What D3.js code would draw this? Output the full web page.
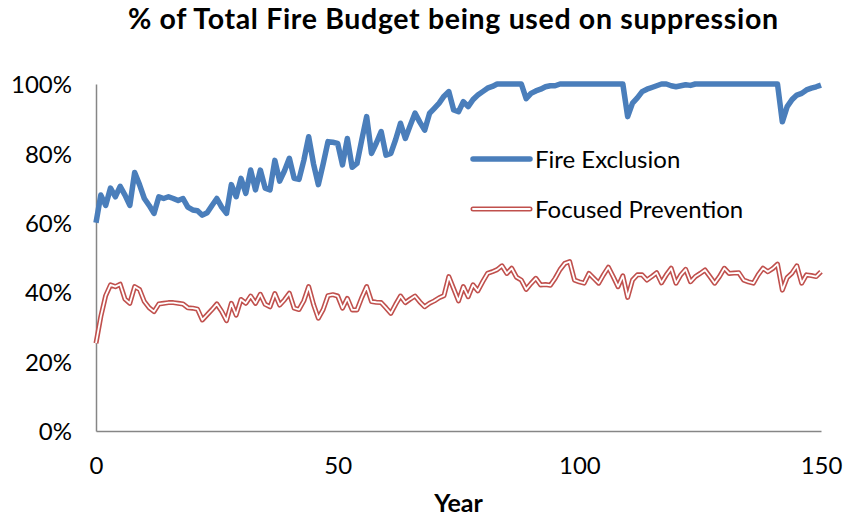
<!DOCTYPE html>
<html>
<head>
<meta charset="utf-8">
<script src="https://cdn.jsdelivr.net/npm/d3@7/dist/d3.min.js"></script>
<style>
  html, body { margin: 0; padding: 0; background: #fff; }
  svg { display: block; }
  text { font-family: Lato, "Open Sans", sans-serif; fill: #000; }
</style>
</head>
<body>
<svg id="chart" width="845" height="520"></svg>
<script>
// Share of the total fire budget spent on suppression, by simulated year.
const years = d3.range(0, 151);

const fireExclusion = [
  60, 68, 65, 70, 67.5, 70.5, 68, 65, 74.5, 71,
  67, 65, 62.7, 67.5, 67, 67.5, 67, 66.4, 67, 64.5,
  63.7, 63.5, 62.2, 62.9, 65, 67, 64.5, 62.7, 71, 67.5,
  72.8, 68.5, 75.2, 69.5, 75.2, 70, 69.5, 78, 72, 75,
  78.6, 72.8, 72.5, 78, 84.8, 77, 71, 77, 83.4, 83.2,
  82.9, 76.7, 84.3, 76, 77.1, 84, 90.6, 80, 83, 86.3,
  79.5, 80, 84, 88.7, 84.3, 88, 91.6, 89, 86.7, 91.5,
  93, 94.5, 96.5, 97.8, 92.5, 92, 94.9, 93.5, 95.5, 96.8,
  97.8, 98.8, 99.3, 100, 100, 100, 100, 100, 100, 95.8,
  97.3, 98, 98.5, 99.2, 99.5, 99.5, 100, 100, 100, 100,
  100, 100, 100, 100, 100, 100, 100, 100, 100, 100,
  90.6, 94.5, 96, 97.8, 98.5, 99, 99.5, 100, 100, 99.5,
  99.2, 99.5, 99.8, 99.6, 100, 100, 100, 100, 100, 100,
  100, 100, 100, 100, 100, 100, 100, 100, 100, 100,
  100, 100, 89.1, 93.5, 95.5, 96.8, 97.3, 98.3, 98.8, 99.2,
  99.7
];

const focusedPrevention = [
  25.3, 33, 39, 42.1, 41.6, 42.3, 38, 36.8, 41.6, 40.8,
  37.3, 35.5, 34.4, 36.6, 36.8, 37, 37, 36.8, 36.6, 35.5,
  35.4, 35.1, 32, 33.5, 35, 36.6, 34.5, 31.8, 36.8, 33.4,
  37.9, 36.8, 38.9, 36.8, 39.4, 36.5, 35.8, 39.6, 36.3, 37.8,
  39.7, 35.4, 35, 37.5, 41.6, 36.5, 32.5, 35, 39, 39.3,
  38.9, 35.4, 38.2, 34.9, 34.9, 38.5, 41.6, 37.3, 37.1, 37,
  35.5, 33.9, 36.5, 38.9, 37, 38, 38.9, 37.2, 35.8, 36.8,
  37.5, 38.4, 39, 44.5, 41, 37.5, 41.6, 38.7, 42.1, 40.4,
  43, 45.4, 45.9, 46.5, 47.6, 45.4, 46.9, 44.3, 43.5, 40.8,
  42.5, 44, 42.1, 42.2, 42, 44, 46.5, 48.3, 48.8, 43.5,
  43, 42.6, 45.4, 44, 42.6, 45, 47.2, 44.5, 41.6, 44.7,
  38.5, 43.5, 45, 45, 43.5, 44.5, 45.6, 42.7, 45, 46.9,
  42.6, 45, 46.6, 43, 44.5, 45.4, 46.4, 44.5, 42.6, 44.5,
  46.9, 45.4, 45.5, 45.6, 43.5, 43, 42.6, 45, 46.9, 45.9,
  46.8, 48.1, 40.6, 44.2, 45.5, 47.6, 42.6, 45, 44.8, 44.5,
  45.9
];

const xTicks = [0, 50, 100, 150];
const yTicks = [0, 20, 40, 60, 80, 100];
const seriesNames = ["Fire Exclusion", "Focused Prevention"];
const titleText = "% of Total Fire Budget being used on suppression";
const xTitle = "Year";

const svg = d3.select("#chart");
const margin = { left: 96, right: 24, top: 84, bottom: 89 };
const W = 845, H = 520;

const x = d3.scaleLinear().domain([0, 150]).range([margin.left, W - margin.right]);
const y = d3.scaleLinear().domain([0, 100]).range([H - margin.bottom, margin.top]);

const axisColor = "#868686";
const blue = "#4a7ebb", red = "#c0504d";

// Title
svg.append("text")
  .attr("x", 453).attr("y", 29)
  .attr("text-anchor", "middle")
  .attr("textLength", 650).attr("lengthAdjust", "spacing")
  .style("font-size", "28.5px").style("font-weight", "700")
  .text(titleText);

// Y axis
const yAxis = svg.append("g")
  .attr("transform", `translate(${margin.left},0)`)
  .call(d3.axisLeft(y).tickValues(yTicks).tickSize(0).tickPadding(24)
    .tickFormat(d => d + "%"));
yAxis.select(".domain").attr("stroke", axisColor).attr("stroke-width", 1.5);
yAxis.selectAll("text").style("font-size", "24px").style("font-family", "Lato, sans-serif")
  .attr("dy", "0.36em");

// X axis
const xAxis = svg.append("g")
  .attr("transform", `translate(0,${y(0)})`)
  .call(d3.axisBottom(x).tickValues(xTicks).tickSize(0).tickPadding(26)
    .tickFormat(d3.format("d")));
xAxis.select(".domain").attr("stroke", axisColor).attr("stroke-width", 1.5);
xAxis.selectAll("text").style("font-size", "24px").style("font-family", "Lato, sans-serif");

// X axis title
svg.append("text")
  .attr("x", x(75)).attr("y", 512)
  .attr("text-anchor", "middle")
  .style("font-size", "25px").style("font-weight", "700")
  .text(xTitle);

const line = d3.line()
  .x((d, i) => x(years[i]))
  .y(d => y(d));

// Focused Prevention: red double line
svg.append("path").datum(focusedPrevention)
  .attr("d", line).attr("fill", "none")
  .attr("stroke", red).attr("stroke-width", 5).attr("stroke-linejoin", "round");
svg.append("path").datum(focusedPrevention)
  .attr("d", line).attr("fill", "none")
  .attr("stroke", "#fff").attr("stroke-width", 1.8).attr("stroke-linejoin", "round");

// Fire Exclusion: thick blue line
svg.append("path").datum(fireExclusion)
  .attr("d", line).attr("fill", "none")
  .attr("stroke", blue).attr("stroke-width", 5.5).attr("stroke-linejoin", "round");

// Legend
const legend = svg.append("g");
const lx1 = 473, lx2 = 530, ly = [159, 209];
legend.append("line").attr("x1", lx1).attr("x2", lx2).attr("y1", ly[0]).attr("y2", ly[0])
  .attr("stroke", blue).attr("stroke-width", 5.5).attr("stroke-linecap", "round");
legend.append("line").attr("x1", lx1).attr("x2", lx2).attr("y1", ly[1]).attr("y2", ly[1])
  .attr("stroke", red).attr("stroke-width", 5).attr("stroke-linecap", "round");
legend.append("line").attr("x1", lx1).attr("x2", lx2).attr("y1", ly[1]).attr("y2", ly[1])
  .attr("stroke", "#fff").attr("stroke-width", 1.8).attr("stroke-linecap", "round");
seriesNames.forEach((name, i) => {
  legend.append("text")
    .attr("x", 535).attr("y", ly[i]).attr("dy", "0.36em")
    .style("font-size", "24px")
    .text(name);
});
</script>
</body>
</html>
